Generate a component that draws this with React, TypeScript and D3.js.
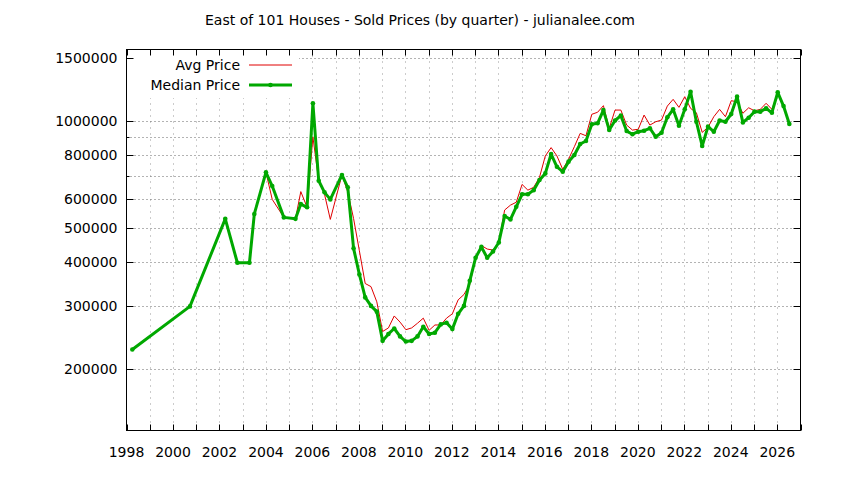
import React, { useEffect, useRef } from 'react';
import * as d3 from 'd3';

// quarter positions (decimal year)
const dates = [
  1998.25, 2000.73, 2002.25, 2002.77, 2003.29, 2003.5, 2004.0, 2004.27, 2004.77, 2005.27,
  2005.5, 2005.77, 2006.02, 2006.27, 2006.52, 2006.77, 2007.27, 2007.52, 2007.77, 2008.02,
  2008.27, 2008.52, 2008.77, 2009.02, 2009.27, 2009.52, 2009.77, 2010.02, 2010.27, 2010.52,
  2010.77, 2011.02, 2011.27, 2011.52, 2011.77, 2012.02, 2012.27, 2012.52, 2012.77, 2013.02,
  2013.27, 2013.52, 2013.77, 2014.02, 2014.27, 2014.52, 2014.77, 2015.02, 2015.27, 2015.52,
  2015.77, 2016.02, 2016.27, 2016.52, 2016.77, 2017.02, 2017.27, 2017.52, 2017.77, 2018.02,
  2018.27, 2018.52, 2018.77, 2019.02, 2019.27, 2019.52, 2019.77, 2020.02, 2020.27, 2020.52,
  2020.77, 2021.02, 2021.27, 2021.52, 2021.77, 2022.02, 2022.27, 2022.52, 2022.77, 2023.02,
  2023.27, 2023.52, 2023.77, 2024.02, 2024.27, 2024.52, 2024.77, 2025.02, 2025.27, 2025.52,
  2025.77, 2026.02, 2026.27, 2026.52,
];

const avgPrice = [
  227000, 300000, 529000, 398000, 398000, 546000, 715000, 600000, 534000, 529000,
  631000, 570000, 900000, 677000, 620000, 527000, 703000, 630000, 530000, 430000,
  348000, 341000, 309000, 255000, 261000, 282000, 271000, 258000, 261000, 269000,
  278000, 257000, 266000, 266000, 278000, 286000, 313000, 324000, 346000, 411000,
  445000, 435000, 432000, 455000, 560000, 578000, 589000, 661000, 637000, 649000,
  692000, 795000, 839000, 795000, 729000, 778000, 844000, 920000, 906000, 1041000,
  1055000, 1101000, 951000, 1070000, 1070000, 971000, 940000, 945000, 1036000, 971000,
  992000, 1003000, 1098000, 1147000, 1089000, 1167000, 1082000, 1052000, 926000, 957000,
  1025000, 1075000, 1025000, 1137000, 1129000, 1048000, 1086000, 1065000, 1075000, 1118000,
  1075000, 1193000, 1098000, 978000,
];

const medianPrice = [
  227000, 300000, 529000, 398000, 398000, 546000, 715000, 654000, 534000, 529000,
  582000, 570000, 1118000, 677000, 628000, 600000, 703000, 649000, 437000, 369000,
  318000, 301000, 290000, 240000, 251000, 260000, 247000, 239000, 240000, 247000,
  263000, 251000, 253000, 267000, 270000, 259000, 286000, 301000, 354000, 411000,
  441000, 411000, 428000, 454000, 539000, 527000, 572000, 620000, 620000, 637000,
  680000, 710000, 805000, 741000, 718000, 766000, 800000, 859000, 876000, 976000,
  982000, 1070000, 940000, 1000000, 1032000, 934000, 915000, 930000, 936000, 951000,
  900000, 924000, 1021000, 1075000, 967000, 1075000, 1205000, 992000, 848000, 961000,
  930000, 1000000, 992000, 1043000, 1167000, 988000, 1018000, 1059000, 1059000, 1082000,
  1052000, 1200000, 1098000, 978000,
];

const yLabelTicks = [200000, 300000, 400000, 500000, 600000, 800000, 1000000, 1500000];
const yMinorTicks = [700000, 900000];
const yGridValues = [200000, 300000, 400000, 500000, 600000, 700000, 800000, 900000, 1000000, 1500000];
const xLabelYears = d3.range(1998, 2027, 2);
const xTickYears = d3.range(1998, 2028, 1);

const title = 'East of 101 Houses - Sold Prices (by quarter) - julianalee.com';
const seriesNames = ['Avg Price', 'Median Price'];

const W = 844;
const H = 480;
const plot = { left: 126.5, right: 800.5, top: 49.5, bottom: 430.5 };
const FONT = '"DejaVu Sans", sans-serif';
const RED = '#e00000';
const GREEN = '#00a800';

export default function App() {
  const svgRef = useRef<SVGSVGElement>(null);

  useEffect(() => {
    if (!svgRef.current) return;
    const svg = d3.select(svgRef.current);
    svg.selectAll('*').remove();

    const x = d3.scaleLinear().domain([1998, 2027]).range([plot.left, plot.right]);
    const y = d3.scaleLog().domain([134300, 1584000]).range([plot.bottom, plot.top]);

    svg.append('rect').attr('width', W).attr('height', H).attr('fill', '#fff');

    // grid
    const grid = svg.append('g');
    xTickYears.filter(yr => yr > 1998 && yr < 2027).forEach(yr => {
      const px = Math.round(x(yr)) + 0.5;
      grid.append('line')
        .attr('x1', px).attr('x2', px)
        .attr('y1', plot.top).attr('y2', plot.bottom)
        .attr('stroke', '#999').attr('stroke-width', 1)
        .attr('stroke-dasharray', '1,5');
    });
    yGridValues.forEach(v => {
      const py = Math.round(y(v)) + 0.5;
      grid.append('line')
        .attr('x1', plot.left).attr('x2', plot.right)
        .attr('y1', py).attr('y2', py)
        .attr('stroke', '#666').attr('stroke-width', 1)
        .attr('stroke-dasharray', '1,3');
    });

    // opaque key box
    svg.append('rect')
      .attr('x', plot.left + 0.5).attr('y', plot.top + 0.5)
      .attr('width', 172).attr('height', 48)
      .attr('fill', '#fff');

    // ticks
    const ticks = svg.append('g').attr('stroke', '#000').attr('stroke-width', 1);
    xTickYears.forEach(yr => {
      const px = Math.round(x(yr)) + 0.5;
      ticks.append('line').attr('x1', px).attr('x2', px).attr('y1', plot.bottom).attr('y2', plot.bottom - 6);
      ticks.append('line').attr('x1', px).attr('x2', px).attr('y1', plot.top).attr('y2', plot.top + 6);
    });
    yLabelTicks.forEach(v => {
      const py = Math.round(y(v)) + 0.5;
      ticks.append('line').attr('x1', plot.left).attr('x2', plot.left + 7).attr('y1', py).attr('y2', py);
      ticks.append('line').attr('x1', plot.right).attr('x2', plot.right - 7).attr('y1', py).attr('y2', py);
    });
    yMinorTicks.forEach(v => {
      const py = Math.round(y(v)) + 0.5;
      ticks.append('line').attr('x1', plot.left).attr('x2', plot.left + 3).attr('y1', py).attr('y2', py);
      ticks.append('line').attr('x1', plot.right).attr('x2', plot.right - 3).attr('y1', py).attr('y2', py);
    });

    // border
    svg.append('rect')
      .attr('x', plot.left).attr('y', plot.top)
      .attr('width', plot.right - plot.left).attr('height', plot.bottom - plot.top)
      .attr('fill', 'none').attr('stroke', '#000').attr('stroke-width', 1);

    // tick labels
    const labels = svg.append('g').attr('font-family', FONT).attr('font-size', 14).attr('fill', '#000');
    yLabelTicks.forEach(v => {
      labels.append('text')
        .attr('x', plot.left - 9).attr('y', y(v)).attr('dy', '0.36em')
        .attr('text-anchor', 'end').text(String(v));
    });
    xLabelYears.forEach(yr => {
      labels.append('text')
        .attr('x', x(yr)).attr('y', plot.bottom + 26)
        .attr('text-anchor', 'middle').text(String(yr));
    });

    svg.append('text')
      .attr('x', 420).attr('y', 25)
      .attr('text-anchor', 'middle')
      .attr('font-family', FONT).attr('font-size', 14)
      .text(title);

    // series
    const line = d3.line<number>()
      .x((d, i) => x(dates[i]))
      .y(d => y(d));

    svg.append('path')
      .datum(avgPrice)
      .attr('fill', 'none').attr('stroke', RED).attr('stroke-width', 1)
      .attr('d', line);

    svg.append('path')
      .datum(medianPrice)
      .attr('fill', 'none').attr('stroke', GREEN).attr('stroke-width', 3)
      .attr('stroke-linejoin', 'round')
      .attr('d', line);

    svg.append('g').selectAll('circle')
      .data(medianPrice)
      .join('circle')
      .attr('cx', (d, i) => x(dates[i]))
      .attr('cy', d => y(d))
      .attr('r', 2.3)
      .attr('fill', GREEN);

    // key
    const key = svg.append('g').attr('font-family', FONT).attr('font-size', 14);
    const keyRows = [
      { name: seriesNames[0], color: RED, width: 1, marker: false, y: 65 },
      { name: seriesNames[1], color: GREEN, width: 3, marker: true, y: 85 },
    ];
    keyRows.forEach(r => {
      key.append('text')
        .attr('x', 240).attr('y', r.y).attr('dy', '0.36em')
        .attr('text-anchor', 'end').text(r.name);
      key.append('line')
        .attr('x1', 249).attr('x2', 292).attr('y1', r.y).attr('y2', r.y)
        .attr('stroke', r.color).attr('stroke-width', r.width);
      if (r.marker) {
        key.append('circle').attr('cx', 270.5).attr('cy', r.y).attr('r', 2.3).attr('fill', r.color);
      }
    });
  }, []);

  return (
    <svg
      ref={svgRef}
      width={W}
      height={H}
      style={{ position: 'fixed', left: 0, top: 0, display: 'block' }}
    />
  );
}
